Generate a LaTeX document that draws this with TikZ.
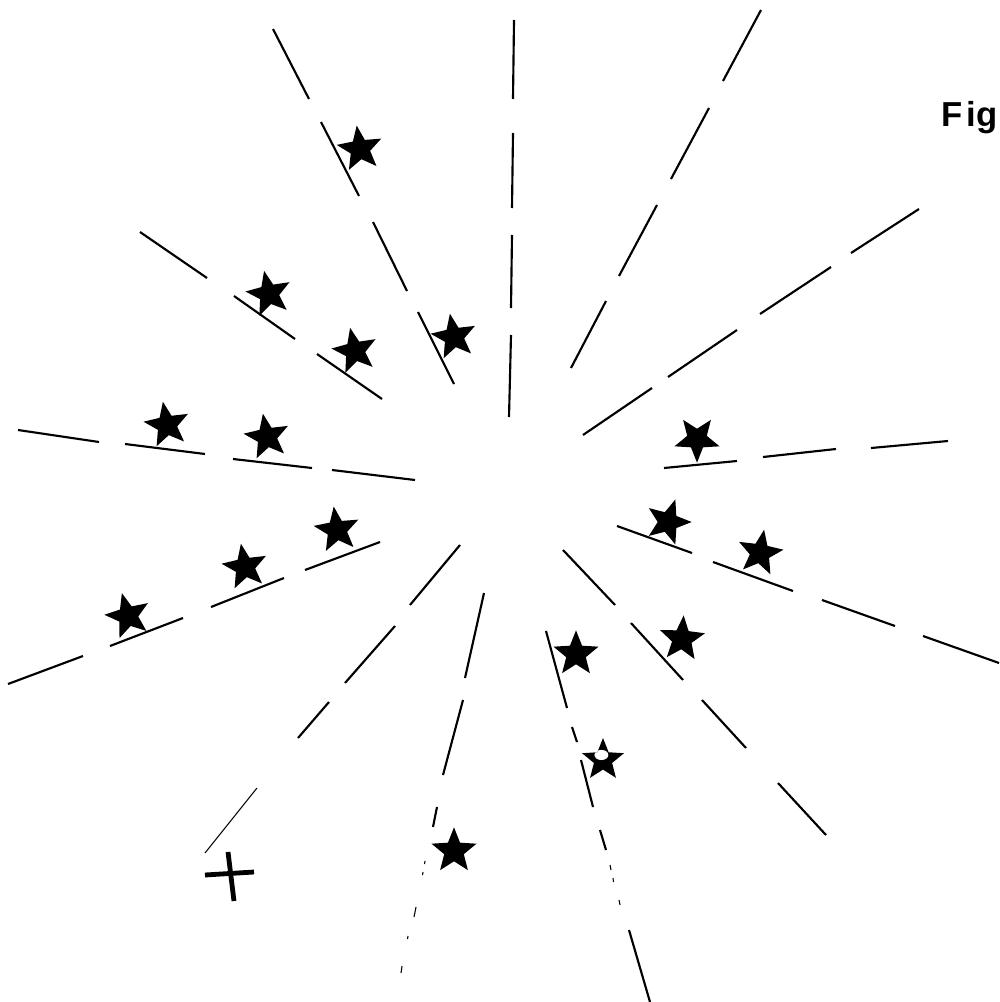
\documentclass[tikz,border=0pt]{standalone}
\usepackage{fontspec}
\newfontfamily\figfont{Liberation Sans}
\usetikzlibrary{shapes.geometric}
\begin{document}
\begin{tikzpicture}[x=0.75pt,y=-0.75pt,
  ray/.style={line width=1.6pt},
  faint/.style={line width=0.8pt},
  starmark/.style={star,star points=5,star point ratio=2.3,fill=black,inner sep=0pt,minimum size=35.5pt},
  hollowstar/.style={starmark,minimum size=33pt,
    path picture={\fill[white] ([shift={(-1.2pt,2.2pt)}]path picture bounding box.center) ellipse [x radius=5.2pt,y radius=3.8pt];}},
  crossbar/.style={line width=3.6pt},
  figlabel/.style={anchor=base west,inner sep=0pt,font=\figfont\bfseries\fontsize{26}{30}\selectfont}
]
\useasboundingbox (0,0) rectangle (999,1002);

% rays (dashes drawn as separate segments)
\draw[ray] (514,20)--(513,99) (513,133)--(512,208) (512,235)--(511,308) (511,335)--(509,417);
\draw[ray] (761,10)--(723,81) (709,108)--(671,179) (657,205)--(619,276) (606,301)--(571,368);
\draw[ray] (919,209)--(851,253) (831,267)--(760,314) (737,330)--(668,377) (652,388)--(583,435);
\draw[ray] (948,441)--(871,448) (836,449)--(763,457) (737,461)--(664,468);
\draw[ray] (617,526)--(692,553) (713,562)--(793,591) (822,600)--(895,626) (923,636)--(999,663);
\draw[ray] (563,550)--(615,605) (631,623)--(683,680) (702,700)--(746,748) (778,783)--(826,835);
\draw[ray] (546,631)--(567,708) (572,727)--(577,742) (581,760)--(593,807) (600,830)--(606,850) (629,930)--(650,1002);
\draw[faint] (610,865)--(611,870) (613,878)--(613.5,882) (619,900)--(620,905);
\draw[ray] (484,593)--(465,678) (463,700)--(443,775) (437,807)--(433,827);
\draw[faint] (425,861)--(424.5,864) (423,872)--(422.5,875) (416,907)--(414,917) (408,936)--(407.5,939) (402,966)--(401,973);
\draw[ray] (460,545)--(410,605) (395,626)--(345,683) (329,702)--(298,738);
\draw[faint] (257,788)--(205,853);
\draw[ray] (380,542)--(305,570) (284,578)--(211,607) (183,618)--(110,646) (83,656)--(8,684);
\draw[ray] (415,480)--(332,470) (312,468)--(233,459) (205,454)--(125,444) (99,442)--(18,430);
\draw[ray] (382,399)--(317,354) (295,339)--(234,296) (207,278)--(140,232);
\draw[ray] (454,384)--(418,312) (407,291)--(373,222) (359,196)--(321,122) (309,99)--(273,29);

% stars
\node[starmark,rotate=8]  (s1)  at (360,149) {};
\node[starmark,rotate=10] (s2)  at (454,337) {};
\node[starmark,rotate=12] (s3)  at (269,294) {};
\node[starmark,rotate=12] (s4)  at (355,351) {};
\node[starmark,rotate=10] (s5)  at (167,425) {};
\node[starmark,rotate=10] (s6)  at (267,437) {};
\node[starmark,rotate=8]  (s7)  at (337,530) {};
\node[starmark,rotate=10] (s8)  at (245,567) {};
\node[starmark,rotate=15] (s9)  at (128,616) {};
\node[starmark,rotate=180] (s10) at (697,439) {};
\node[starmark,rotate=-18] (s11) at (668,522) {};
\node[starmark,rotate=-10] (s12) at (760,553) {};
\node[starmark,rotate=-4] (s13) at (682,639) {};
\node[starmark] (s14) at (576,654) {};
\node[hollowstar] (s15) at (603,760) {};
\node[starmark] (s16) at (454,851) {};

% cross
\draw[crossbar] (228,852)--(234,901);
\draw[crossbar] (205,875)--(254,872);

% label
\node[figlabel] (fig) at (941.5,127) {F\kern3pt ig};
\end{tikzpicture}
\end{document}
